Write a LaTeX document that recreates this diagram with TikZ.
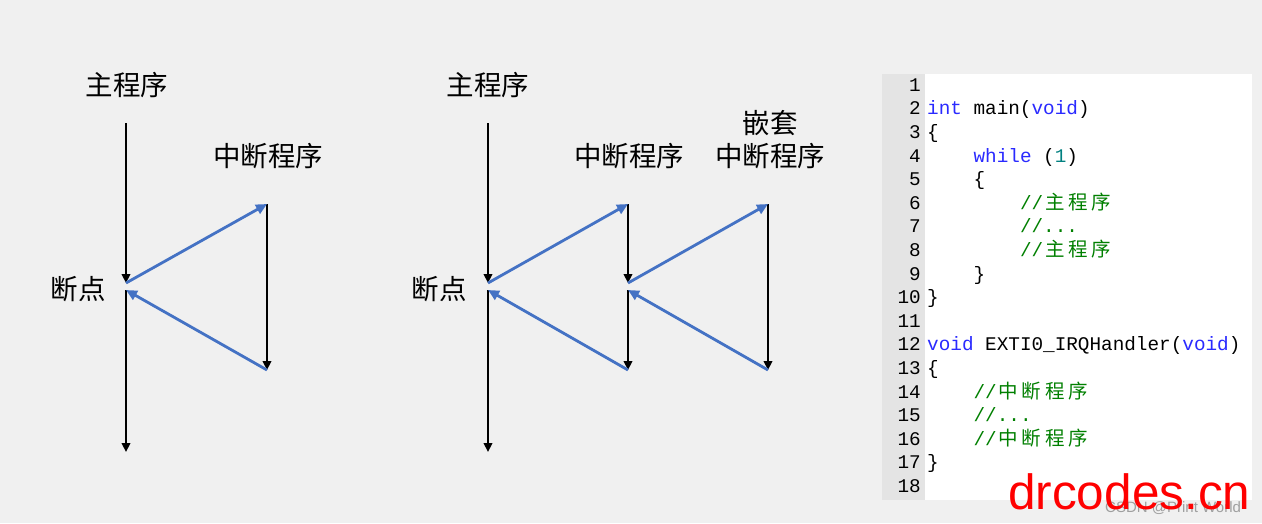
\documentclass[tikz,border=0pt]{standalone}
\usepackage{fontspec}
\usetikzlibrary{arrows.meta, positioning, calc}

\newfontfamily\cjk{Noto Sans CJK SC}
\newfontfamily\codefont{Liberation Mono}
\newfontfamily\wmfont{Liberation Sans}

\definecolor{flowblue}{HTML}{4472C4}
\definecolor{kwblue}{HTML}{2A2AFF}
\definecolor{cmgreen}{HTML}{008000}
\definecolor{numteal}{HTML}{008080}
\definecolor{bggray}{HTML}{F0F0F0}
\definecolor{guttergray}{HTML}{E4E4E4}

% code colouring helpers
\newcommand{\kw}[1]{\textcolor{kwblue}{#1}}
\newcommand{\cnum}[1]{\textcolor{numteal}{#1}}
\newcommand{\cm}[1]{\textcolor{cmgreen}{#1}}
\newcommand{\hz}[1]{\makebox[23.2pt][c]{\fontsize{19.5}{19.5}\cjk #1}}
\newcommand{\ind}[1]{\hspace*{#1\dimexpr 11.6pt\relax}}

\begin{document}
\begin{tikzpicture}[x=1pt, y=-1pt,
	flow/.style={line width=2.5pt, -{Triangle[length=9pt,width=8.5pt]}},
	jump/.style={flowblue, line width=2.8pt, -{Triangle[length=11pt,width=10pt]}},
	lbl/.style={font=\fontsize{27.5}{27.5}\cjk, inner sep=0pt},
	code/.style={font=\fontsize{19.33}{23.6}\codefont, anchor=base west, inner sep=0pt},
	lnum/.style={font=\fontsize{19.33}{23.6}\codefont, anchor=base east, inner sep=0pt}]
	
	% ====== canvas ======
	\fill[bggray] (0,0) rectangle (1262,523);
	\useasboundingbox (0,0) rectangle (1262,523);
	
	% ====== left: single interrupt ======
	\coordinate (A-top) at (126,123);
	\coordinate (A-bp)  at (126,283);
	\coordinate (A-ret) at (126,290);
	\coordinate (A-end) at (126,452);
	\coordinate (B-top) at (267,204);
	\coordinate (B-end) at (267,370);
	
	\node[lbl] (mainA) at (127,85) {主程序};
	\node[lbl] (isrA)  at (268,156) {中断程序};
	\node[lbl] (bpA)   at (78,289) {断点};
	
	\draw[flow] (A-top) -- (A-bp);
	\draw[flow] (A-ret) -- (A-end);
	\draw[flow] (B-top) -- (B-end);
	\draw[jump] (A-bp) -- (B-top);
	\draw[jump] (B-end) -- (A-ret);
	
	% ====== middle: nested interrupt ======
	\coordinate (M-top) at (488,123);
	\coordinate (M-bp)  at (488,283);
	\coordinate (M-ret) at (488,290);
	\coordinate (M-end) at (488,452);
	\coordinate (I-top) at (628,204);
	\coordinate (I-bp)  at (628,283);
	\coordinate (I-ret) at (628,290);
	\coordinate (I-end) at (628,370);
	\coordinate (N-top) at (768,204);
	\coordinate (N-end) at (768,370);
	
	\node[lbl] (mainB) at (488,85) {主程序};
	\node[lbl] (bpB)   at (439,289) {断点};
	\node[lbl] (isrB)  at (629,156) {中断程序};
	\node[lbl] (nestC) at (770,123) {嵌套};
	\node[lbl] (isrC)  at (770,156) {中断程序};
	
	\draw[flow] (M-top) -- (M-bp);
	\draw[flow] (M-ret) -- (M-end);
	\draw[flow] (I-top) -- (I-bp);
	\draw[flow] (I-ret) -- (I-end);
	\draw[flow] (N-top) -- (N-end);
	\draw[jump] (M-bp) -- (I-top);
	\draw[jump] (I-bp) -- (N-top);
	\draw[jump] (N-end) -- (I-ret);
	\draw[jump] (I-end) -- (M-ret);
	
	% ====== code listing ======
	\fill[guttergray] (882,74) rectangle (925,500);
	\fill[white] (925,74) rectangle (1252,500);
	
	\def\lh{23.6} % line pitch
	\foreach \n in {1,...,18}
		\node[lnum] (ln\n) at (921,{91.3+(\n-1)*\lh}) {\n};
	
	\node[code] (c2)  at (927,{91.3+1*\lh})  {\kw{int} main(\kw{void})};
	\node[code] (c3)  at (927,{91.3+2*\lh})  {\{};
	\node[code] (c4)  at (927,{91.3+3*\lh})  {\ind{4}\kw{while} (\cnum{1})};
	\node[code] (c5)  at (927,{91.3+4*\lh})  {\ind{4}\{};
	\node[code] (c6)  at (927,{91.3+5*\lh})  {\ind{8}\cm{//\hz{主}\hz{程}\hz{序}}};
	\node[code] (c7)  at (927,{91.3+6*\lh})  {\ind{8}\cm{//...}};
	\node[code] (c8)  at (927,{91.3+7*\lh})  {\ind{8}\cm{//\hz{主}\hz{程}\hz{序}}};
	\node[code] (c9)  at (927,{91.3+8*\lh})  {\ind{4}\}};
	\node[code] (c10) at (927,{91.3+9*\lh})  {\}};
	\node[code] (c12) at (927,{91.3+11*\lh}) {\kw{void} EXTI0\_IRQHandler(\kw{void})};
	\node[code] (c13) at (927,{91.3+12*\lh}) {\{};
	\node[code] (c14) at (927,{91.3+13*\lh}) {\ind{4}\cm{//\hz{中}\hz{断}\hz{程}\hz{序}}};
	\node[code] (c15) at (927,{91.3+14*\lh}) {\ind{4}\cm{//...}};
	\node[code] (c16) at (927,{91.3+15*\lh}) {\ind{4}\cm{//\hz{中}\hz{断}\hz{程}\hz{序}}};
	\node[code] (c17) at (927,{91.3+16*\lh}) {\}};
	
	% ====== watermark ======
	\node[font=\fontsize{15}{15}\wmfont, text=gray!75, anchor=base west, inner sep=0pt] (csdn) at (1105,512) {CSDN @Print World};
	\node[font=\fontsize{49.5}{49.5}\wmfont, text=red, anchor=base west, inner sep=0pt] (site) at (1008,509) {drcodes.cn};
\end{tikzpicture}
\end{document}
